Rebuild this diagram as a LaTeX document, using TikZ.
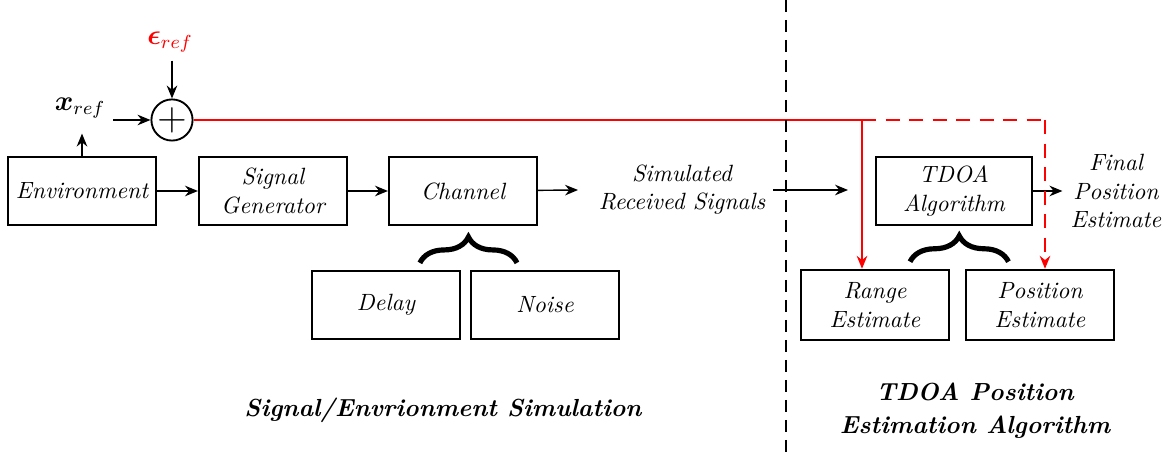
\documentclass[tikz,border=0pt]{standalone}
\usepackage{amsmath,bm}
\usetikzlibrary{arrows.meta,decorations.pathreplacing,calc}

\tikzset{
  block/.style = {draw, thick, minimum width=63pt, minimum height=29pt, font=\itshape, align=center, inner sep=2pt},
  sig/.style = {-{Stealth[length=5.5pt,width=4.5pt]}, semithick},
  refline/.style = {red, semithick},
  brc/.style = {decorate, decoration={brace, amplitude=11pt}, line width=2.2pt},
  title/.style = {font=\fontsize{10.5}{14}\selectfont\bfseries\itshape, align=center}
}

\begin{document}
\begin{tikzpicture}[x=0.425pt, y=-0.425pt]
\useasboundingbox (0,0) rectangle (1167,458);
% simulation blocks
\node[block] (Env) at (82,191) {Environment};
\node[block] (Gen) at (273,191) {Signal\\Generator};
\node[block] (Chan) at (463,191) {Channel};
\node[block] (Delay) at (386,305) {Delay};
\node[block] (Noise) at (545,305) {Noise};
\node[font=\itshape, align=center] (Sim) at (682,190) {Simulated\\Received Signals};
% estimation blocks
\node[block, minimum width=66pt] (TDOA) at (954,191) {TDOA\\Algorithm};
\node[block, minimum height=30pt] (Range) at (875,305) {Range\\Estimate};
\node[block, minimum height=30pt] (Pos) at (1040,305) {Position\\Estimate};
\node[font=\itshape, align=center] (Final) at (1116,191) {Final\\Position\\Estimate};
% reference inputs
\node[circle, draw, thick, minimum size=17.5pt, inner sep=0pt, font=\LARGE] (sum) at (172,120) {$+$};
\node[font=\large] (xref) at (80,108) {$\bm{x}_{ref}$};
\node[font=\large, red] (eps) at (170,42) {$\bm{\epsilon}_{ref}$};
\coordinate (chanout) at (578,190);
\coordinate (tdoain) at (848,190);
\coordinate (split) at (862,120);
\coordinate (corner) at (1045,120);
% signal path
\draw[sig] (Env) -- (Gen);
\draw[sig] (Gen) -- (Chan);
\draw[sig] (Chan) -- (chanout);
\draw[sig] (Sim.east |- tdoain) -- (tdoain);
\draw[sig] (TDOA) -- (Final.west |- TDOA);
\draw[sig] (Env.north) -- ([yshift=-3pt]xref.south -| Env.north);
\draw[sig] (xref.east |- sum) -- (sum.west);
\draw[sig] (eps.south -| sum.north) -- (sum.north);
% braces
\draw[brc] ([xshift=-17.5pt,yshift=3pt]Delay.north east) -- ([xshift=20pt,yshift=3pt]Noise.north west);
\draw[brc] ([xshift=-17pt,yshift=3pt]Range.north east) -- ([xshift=18.5pt,yshift=3pt]Pos.north west);
% reference line
\draw[refline] (sum.east) -- (split);
\draw[refline, -{Stealth[length=5.5pt,width=4.5pt]}] (split) -- (split |- Range.north);
\draw[refline, dashed, dash pattern=on 6pt off 4pt] (split) -- (corner);
\draw[refline, dashed, dash pattern=on 6pt off 4pt, -{Stealth[length=5.5pt,width=4.5pt]}] (corner) -- (corner |- Pos.north);
% divider
\draw[semithick, dash pattern=on 5pt off 3.5pt] (786,0) -- (786,458);
% titles
\node[title] (simtitle) at (443,410) {Signal/Envrionment Simulation};
\node[title] (esttitle) at (975,411) {TDOA Position\\Estimation Algorithm};
\end{tikzpicture}
\end{document}
